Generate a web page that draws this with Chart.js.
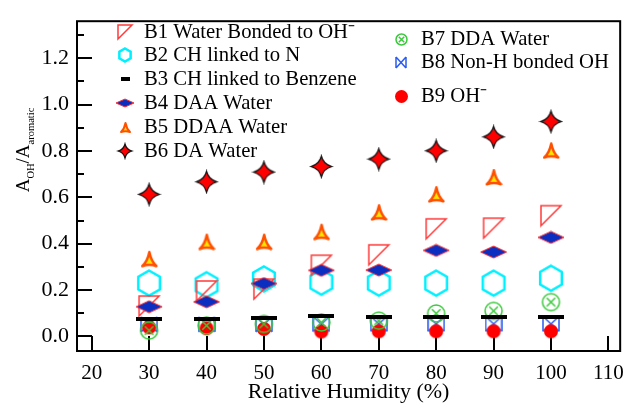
<!DOCTYPE html>
<html><head><meta charset="utf-8">
<script src="https://cdn.jsdelivr.net/npm/chart.js@4.4.0/dist/chart.umd.min.js"></script>
<style>html,body{margin:0;padding:0;background:#fff;}#wrap{width:634px;height:405px;position:relative;}</style>
</head><body><div id="wrap"><canvas id="c" width="634" height="405"></canvas></div>
<script>
// ---- data ----
const humidity = [30, 40, 50, 60, 70, 80, 90, 100];
const b1WaterOH = [0.131, 0.196, 0.204, 0.307, 0.352, 0.464, 0.467, 0.521];
const b2CHN = [0.230, 0.223, 0.248, 0.234, 0.230, 0.230, 0.230, 0.251];
const b3CHBenzene = [0.075, 0.075, 0.079, 0.086, 0.085, 0.085, 0.085, 0.085];
const b4DAA = [0.128, 0.149, 0.228, 0.285, 0.286, 0.371, 0.364, 0.427];
const b5DDAA = [0.335, 0.409, 0.409, 0.452, 0.536, 0.614, 0.688, 0.803];
const b6DA = [0.613, 0.667, 0.709, 0.733, 0.765, 0.801, 0.861, 0.927];
const b7DDA = [0.025, 0.047, 0.054, 0.060, 0.068, 0.099, 0.110, 0.148];
const b8NonH = [0.052, 0.052, 0.052, 0.053, 0.054, 0.054, 0.054, 0.054];
const b9OH = [0.039, 0.035, 0.032, 0.021, 0.022, 0.022, 0.022, 0.022];
const seriesNames = ['B1 Water Bonded to OH\u207B', 'B2 CH linked to N', 'B3 CH linked to Benzene', 'B4 DAA Water', 'B5 DDAA Water', 'B6 DA Water', 'B7 DDA Water', 'B8 Non-H bonded OH', 'B9 OH\u207B'];
const xTickValues = [20, 30, 40, 50, 60, 70, 80, 90, 100, 110];
const yTickValues = [0, 0.1, 0.2, 0.3, 0.4, 0.5, 0.6, 0.7, 0.8, 0.9, 1.0, 1.1, 1.2, 1.3];
const yTickLabels = ['0.0', '', '0.2', '', '0.4', '', '0.6', '', '0.8', '', '1.0', '', '1.2', ''];
const xTitle = 'Relative Humidity (%)';

// ---- marker images ----
function mk(w, h, draw) {
  const c = document.createElement('canvas');
  c.width = w; c.height = h;
  const g = c.getContext('2d');
  draw(g, w, h);
  return c;
}
function rightTri(s) { return mk(s + 4, s + 4, (g, w, h) => {
  g.strokeStyle = '#ff3b3b'; g.lineWidth = 1.5;
  g.beginPath(); g.moveTo(2, 2); g.lineTo(w - 2, 2); g.lineTo(2, h - 2); g.closePath(); g.stroke(); }); }
function hexagon(r, lw) { const w = Math.ceil(2 * r + lw + 2); return mk(w, w, (g, W, H) => {
  g.strokeStyle = '#00f0ff'; g.lineWidth = lw; g.beginPath();
  for (let i = 0; i < 6; i++) { const a = -Math.PI / 2 + i * Math.PI / 3; const x = W / 2 + r * Math.cos(a), y = H / 2 + r * Math.sin(a); i ? g.lineTo(x, y) : g.moveTo(x, y); }
  g.closePath(); g.stroke(); }); }
function dash(w, t) { return mk(w, t, (g, W, H) => { g.fillStyle = '#000'; g.fillRect(0, 0, W, H); }); }
function diamond(w, h) { return mk(w + 2, h + 2, (g, W, H) => {
  g.beginPath(); g.moveTo(W / 2, 1); g.lineTo(W - 1, H / 2); g.lineTo(W / 2, H - 1); g.lineTo(1, H / 2); g.closePath();
  g.fillStyle = '#0c2ec0'; g.fill(); g.strokeStyle = '#ff3030'; g.lineWidth = 1; g.stroke(); }); }
function ctri(s, lw) { return mk(s + lw + 2, s + lw + 2, (g, W, H) => {
  const p = lw / 2 + 1, cx = W / 2, cy = H * 0.6;
  g.beginPath(); g.moveTo(cx, p);
  g.quadraticCurveTo(cx + 0.12 * s, cy, W - p, H - p);
  g.quadraticCurveTo(cx, H - p - 0.18 * s, p, H - p);
  g.quadraticCurveTo(cx - 0.12 * s, cy, cx, p); g.closePath();
  g.fillStyle = '#ffe800'; g.fill(); g.strokeStyle = '#ff5000'; g.lineWidth = lw; g.lineJoin = 'round'; g.stroke(); }); }
function star(r) { const w = Math.ceil(2 * r + 4); return mk(w, w, (g, W, H) => {
  const cx = W / 2, cy = H / 2, k = r * 0.2;
  g.beginPath(); g.moveTo(cx, cy - r);
  g.quadraticCurveTo(cx + k, cy - k, cx + r, cy);
  g.quadraticCurveTo(cx + k, cy + k, cx, cy + r);
  g.quadraticCurveTo(cx - k, cy + k, cx - r, cy);
  g.quadraticCurveTo(cx - k, cy - k, cx, cy - r); g.closePath();
  g.fillStyle = '#ff0000'; g.fill(); g.strokeStyle = '#111'; g.lineWidth = 1.2; g.stroke(); }); }
function circX(r) { const w = Math.ceil(2 * r + 4); return mk(w, w, (g, W, H) => {
  const cx = W / 2, cy = H / 2, d = r * 0.5;
  g.strokeStyle = '#3cc83c'; g.lineWidth = 1.5;
  g.beginPath(); g.arc(cx, cy, r, 0, Math.PI * 2); g.stroke();
  g.beginPath(); g.moveTo(cx - d, cy - d); g.lineTo(cx + d, cy + d); g.moveTo(cx + d, cy - d); g.lineTo(cx - d, cy + d); g.stroke(); }); }
function bowtie(w, h) { return mk(w + 2, h + 2, (g, W, H) => {
  g.strokeStyle = '#2a5cf0'; g.lineWidth = 1.5; g.beginPath();
  g.moveTo(1, 1); g.lineTo(1, H - 1); g.moveTo(W - 1, 1); g.lineTo(W - 1, H - 1);
  g.moveTo(1, 1); g.lineTo(W - 1, H - 1); g.moveTo(1, H - 1); g.lineTo(W - 1, 1); g.stroke(); }); }
function dot(r) { const w = Math.ceil(2 * r + 2); return mk(w, w, (g, W, H) => {
  g.fillStyle = '#ff0000'; g.beginPath(); g.arc(W / 2, H / 2, r, 0, Math.PI * 2); g.fill(); }); }

const plotMarkers = [rightTri(20), hexagon(12.5, 2.5), dash(26, 4), diamond(26, 12), ctri(14, 2.5), star(10.5), circX(8.5), bowtie(16, 15), dot(7)];
const legendMarkers = [rightTri(14), hexagon(6.5, 2.5), dash(9, 4), diamond(18, 8), ctri(9, 2), star(7), circX(5.5), bowtie(10, 11), dot(6.5)];

const seriesValues = [b1WaterOH, b2CHN, b3CHBenzene, b4DAA, b5DDAA, b6DA, b7DDA, b8NonH, b9OH];
const drawOrder = [8, 9, 1, 7, 6, 5, 2, 4, 3];
const datasets = seriesValues.map((vals, i) => ({
  label: seriesNames[i],
  data: humidity.map((x, j) => ({ x: x, y: vals[j] })),
  pointStyle: plotMarkers[i],
  pointRadius: 10,
  showLine: false,
  order: drawOrder[i]
}));

const serif = '"Liberation Serif", "Times New Roman", serif';

const framePlugin = {
  id: 'frame',
  beforeDatasetsDraw(chart) {
    const { ctx, chartArea: a, scales: { x, y } } = chart;
    ctx.save();
    ctx.strokeStyle = '#000'; ctx.lineWidth = 2;
    ctx.beginPath();
    yTickValues.forEach((v, i) => {
      const py = Math.round(y.getPixelForValue(v));
      const len = yTickLabels[i] ? 15 : 7;
      ctx.moveTo(a.left, py); ctx.lineTo(a.left + len, py);
    });
    xTickValues.forEach(v => {
      const px = Math.round(x.getPixelForValue(v));
      ctx.moveTo(px, a.bottom); ctx.lineTo(px, a.bottom - 15);
    });
    ctx.stroke();
    ctx.strokeRect(a.left, a.top, a.right - a.left, a.bottom - a.top);
    ctx.restore();
  },
  afterDraw(chart) {
    const ctx = chart.ctx;
    ctx.save();
    ctx.fillStyle = '#000';
    ctx.textBaseline = 'middle';
    ctx.font = '20.7px ' + serif;
    const left = [[125, 32], [125, 55], [125, 79], [125, 103], [125, 127], [125, 151]];
    const right = [[401, 39], [401, 62], [401, 96]];
    const pos = left.concat(right);
    pos.forEach((p, i) => {
      const m = legendMarkers[i];
      ctx.drawImage(m, Math.round(p[0] - m.width / 2), Math.round(p[1] - m.height / 2));
      const tx = i < 6 ? 144 : 421;
      ctx.fillText(seriesNames[i], tx, p[1] + 1);
    });
    // y axis title with subscripts
    ctx.translate(29, 150);
    ctx.rotate(-Math.PI / 2);
    ctx.textBaseline = 'alphabetic';
    const parts = [['A', 19, 0], ['OH', 10.5, 5], ['/A', 19, 0], ['aromatic', 10.5, 5]];
    let total = 0;
    parts.forEach(p => { ctx.font = p[1] + 'px ' + serif; total += ctx.measureText(p[0]).width; });
    let cx = -total / 2;
    parts.forEach(p => { ctx.font = p[1] + 'px ' + serif; ctx.fillText(p[0], cx, p[2]); cx += ctx.measureText(p[0]).width; });
    ctx.restore();
  }
};

new Chart(document.getElementById('c'), {
  type: 'scatter',
  data: { datasets: datasets },
  options: {
    responsive: false, animation: false, devicePixelRatio: 1,
    layout: { padding: { left: 0, right: 2, top: 14, bottom: 0 } },
    plugins: { legend: { display: false }, tooltip: { enabled: false } },
    scales: {
      x: {
        type: 'linear', min: 17.44, max: 112.05,
        afterBuildTicks: s => { s.ticks = xTickValues.map(v => ({ value: v })); },
        afterFit: s => { s.height = 54; },
        ticks: { color: '#000', font: { family: serif, size: 21 }, padding: 10, maxRotation: 0, autoSkip: false, callback: v => String(v) },
        grid: { display: false, drawTicks: false },
        border: { display: false },
        title: { display: true, text: xTitle, color: '#000', font: { family: serif, size: 22 }, padding: { top: 0, bottom: 0 } }
      },
      y: {
        type: 'linear', min: -0.063, max: 1.36,
        afterBuildTicks: s => { s.ticks = yTickValues.map(v => ({ value: v })); },
        afterFit: s => { s.width = 77; },
        ticks: { color: '#000', font: { family: serif, size: 22 }, padding: 8, autoSkip: false, callback: (v, i) => yTickLabels[i] },
        grid: { display: false, drawTicks: false },
        border: { display: false }
      }
    }
  },
  plugins: [framePlugin]
});
</script></body></html>
